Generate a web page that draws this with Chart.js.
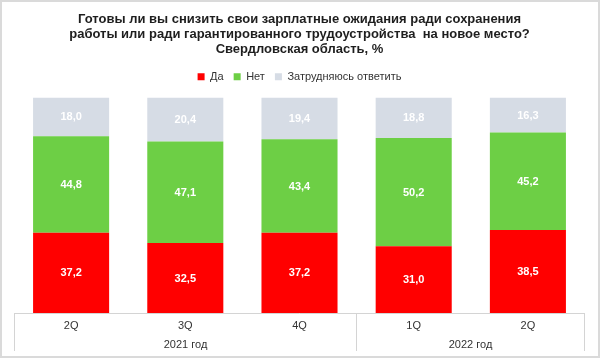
<!DOCTYPE html>
<html>
<head>
<meta charset="utf-8">
<script src="https://cdn.jsdelivr.net/npm/chart.js@4"></script>
<style>
  html, body { margin: 0; padding: 0; background: #fff; }
  #wrap {
    position: absolute; left: 0; top: 0;
    width: 600px; height: 358px;
    box-sizing: border-box;
    border: 2px solid #dadada;
  }
  #wrap canvas { position: absolute; left: -2px; top: -2px; }
</style>
</head>
<body>
<div id="wrap"><canvas id="salaryChart" width="600" height="358"></canvas></div>
<script>
// Chart values
const quarters = ['2Q', '3Q', '4Q', '1Q', '2Q'];
const yearLabels = ['2021 год', '2022 год'];
const yearGroupSizes = [3, 2];
const yesValues = [37.2, 32.5, 37.2, 31.0, 38.5];
const noValues = [44.8, 47.1, 43.4, 50.2, 45.2];
const unsureValues = [18.0, 20.4, 19.4, 18.8, 16.3];

const FONT = 'Arial, "Liberation Sans", sans-serif';

// a bit more room under the legend
const legendGap = {
    id: 'legendGap',
    beforeInit(chart) {
        const fit = chart.legend.fit;
        chart.legend.fit = function () {
            fit.bind(chart.legend)();
            this.height += 5.3;
        };
    }
};

// white value labels in the middle of every bar segment
const segmentLabels = {
    id: 'segmentLabels',
    afterDatasetsDraw(chart) {
        const ctx = chart.ctx;
        ctx.save();
        ctx.font = 'bold 11px ' + FONT;
        ctx.fillStyle = '#ffffff';
        ctx.textAlign = 'center';
        ctx.textBaseline = 'middle';
        chart.data.datasets.forEach((ds, i) => {
            chart.getDatasetMeta(i).data.forEach((bar, j) => {
                const mid = (bar.y + bar.base) / 2;
                ctx.fillText(ds.data[j].toFixed(1).replace('.', ','), bar.x, mid + 0.5);
            });
        });
        ctx.restore();
    }
};

// box under the axis with year groups
const yearGroups = {
    id: 'yearGroups',
    afterDraw(chart) {
        const ctx = chart.ctx;
        const x = chart.scales.x;
        const area = chart.chartArea;
        const half = (x.getPixelForValue(1) - x.getPixelForValue(0)) / 2;
        const top = area.bottom;
        const bottom = 351;
        ctx.save();
        ctx.strokeStyle = '#d4d4d4';
        ctx.lineWidth = 1;
        ctx.beginPath();
        ctx.moveTo(area.left, top + 0.5);
        ctx.lineTo(area.right, top + 0.5);
        ctx.stroke();

        let start = 0;
        const edges = [Math.round(area.left) + 0.5];
        yearGroupSizes.forEach(n => {
            const end = start + n - 1;
            edges.push(Math.round(x.getPixelForValue(end) + half) - 0.5);
            start += n;
        });
        edges.forEach(ex => {
            ctx.beginPath();
            ctx.moveTo(ex, top);
            ctx.lineTo(ex, bottom);
            ctx.stroke();
        });

        ctx.font = '11px ' + FONT;
        ctx.fillStyle = '#333333';
        ctx.textAlign = 'center';
        ctx.textBaseline = 'middle';
        yearLabels.forEach((lbl, i) => {
            ctx.fillText(lbl, (edges[i] + edges[i + 1]) / 2, 345);
        });
        ctx.restore();
    }
};

new Chart(document.getElementById('salaryChart'), {
    type: 'bar',
    data: {
        labels: quarters,
        datasets: [
            { label: 'Да', data: yesValues, backgroundColor: '#ff0000' },
            { label: 'Нет', data: noValues, backgroundColor: '#6dcf45' },
            { label: 'Затрудняюсь ответить', data: unsureValues, backgroundColor: '#d6dce5' }
        ]
    },
    options: {
        responsive: false,
        animation: false,
        layout: { padding: { left: 14, right: 15, top: 0, bottom: 4 } },
        datasets: {
            bar: { barPercentage: 1, categoryPercentage: 0.666, borderWidth: 0 }
        },
        scales: {
            x: {
                stacked: true,
                grid: { display: false, drawTicks: false },
                border: { display: false },
                ticks: { color: '#333', font: { family: FONT, size: 11 }, padding: 6 },
                afterFit(scale) { scale.height = 41; }
            },
            y: {
                stacked: true,
                display: false,
                min: 0,
                max: 100
            }
        },
        plugins: {
            title: {
                display: true,
                text: [
                    'Готовы ли вы снизить свои зарплатные ожидания ради сохранения',
                    'работы или ради гарантированного трудоустройства  на новое место?',
                    'Свердловская область, %'
                ],
                color: '#1e1e1e',
                font: { family: FONT, size: 13, weight: 'bold', lineHeight: 1.15 },
                padding: { top: 12, bottom: 4.3 }
            },
            legend: {
                position: 'top',
                labels: {
                    boxWidth: 7,
                    boxHeight: 7,
                    padding: 10,
                    color: '#333',
                    font: { family: FONT, size: 11 }
                }
            },
            tooltip: { enabled: false }
        }
    },
    plugins: [legendGap, segmentLabels, yearGroups]
});
</script>
</body>
</html>
